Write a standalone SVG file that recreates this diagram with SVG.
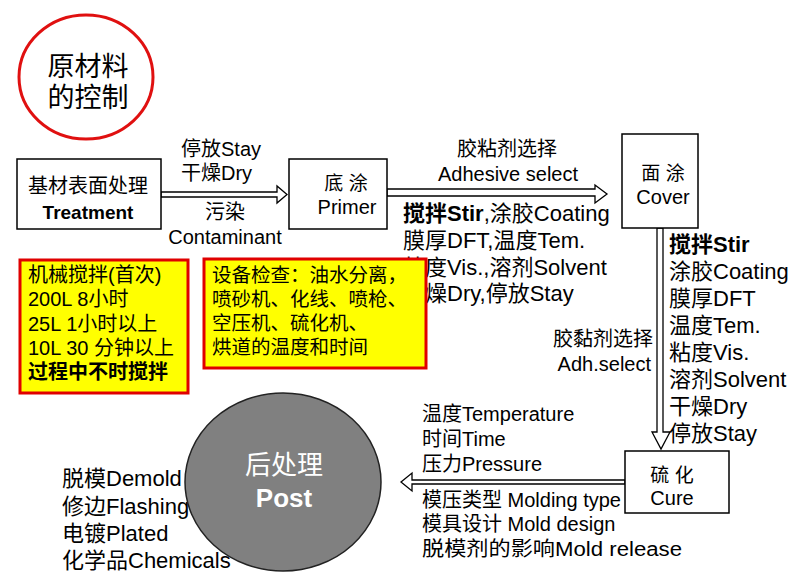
<svg xmlns="http://www.w3.org/2000/svg" width="800" height="578" viewBox="0 0 800 578">
<style>
text{font-family:"Liberation Sans","Noto Sans CJK SC",sans-serif;fill:#000}
.box{fill:#fff;stroke:#000;stroke-width:1.5}
.ybox{fill:#ffff00;stroke:#e00000;stroke-width:3}
.arr{fill:#fff;stroke:#000;stroke-width:1.3}
.t20{font-size:20px}
.t22{font-size:22px}
.b{font-weight:bold}
.mid{text-anchor:middle}
.end{text-anchor:end}
.w{fill:#fff}
</style>
<rect width="800" height="578" fill="#fff"/>

<g id="title">
<ellipse cx="86" cy="77" rx="67" ry="62" fill="#fff" stroke="#e01010" stroke-width="3"/>
<text x="88" y="76" class="mid" font-size="27">原材料</text>
<text x="88" y="107" class="mid" font-size="27">的控制</text>
</g>

<g id="labels-bg">
<g class="t22">
<text x="403" y="221"><tspan class="b">搅拌Stir</tspan>,涂胶Coating</text>
<text x="403" y="248">膜厚DFT,温度Tem.</text>
<text x="403" y="275">粘度Vis.,溶剂Solvent</text>
<text x="403" y="301">干燥Dry,停放Stay</text>
</g>
<g class="t22">
<text x="62" y="486">脱模Demold</text>
<text x="62" y="514">修边Flashing</text>
<text x="62" y="541">电镀Plated</text>
<text x="62" y="568">化学品Chemicals</text>
</g>
</g>

<g id="connectors">
<path class="arr" d="M161,192 H277 V186 L287,194.5 L277,203 V197 H161 Z"/>
<path class="arr" d="M387,189 H595 V185 L607,194 L595,203 V196 H387 Z"/>
<path class="arr" d="M657,228 V432 H652 L661,449 L670,432 H663 V228 Z"/>
<path class="arr" d="M625,480 H412 V473 L401,482 L412,491 V484 H625 Z"/>
</g>

<g id="treatment">
<rect class="box" x="17" y="159" width="144" height="70"/>
<text x="88" y="193" class="mid t20">基材表面处理</text>
<text x="88" y="219" class="mid b" font-size="19">Treatment</text>
</g>

<g id="primer">
<rect class="box" x="289" y="159" width="98" height="70"/>
<text x="346" y="190" class="mid" font-size="19">底 涂</text>
<text x="347" y="214" class="mid t20">Primer</text>
</g>

<g id="cover">
<rect class="box" x="622" y="134" width="76" height="94"/>
<text x="663" y="180" class="mid" font-size="19">面 涂</text>
<text x="663" y="204" class="mid t20">Cover</text>
</g>

<g id="cure">
<rect class="box" x="625" y="451" width="104" height="62"/>
<text x="672" y="482" class="mid" font-size="19">硫 化</text>
<text x="672" y="505" class="mid t20">Cure</text>
</g>

<g id="post">
<ellipse cx="283" cy="482" rx="98" ry="89" fill="#808080" stroke="#222" stroke-width="1.5"/>
<text x="284" y="474" class="mid w" font-size="26">后处理</text>
<text x="284" y="507" class="mid b w" font-size="26">Post</text>
</g>

<g id="labels">
<g class="t20">
<text x="181" y="156">停放Stay</text>
<text x="181" y="180">干燥Dry</text>
<text x="225" y="219" class="mid">污染</text>
<text x="225" y="244" class="mid">Contaminant</text>
<text x="507" y="156" class="mid">胶粘剂选择</text>
<text x="508" y="181" class="mid">Adhesive select</text>
<text x="653" y="346" class="end">胶黏剂选择</text>
<text x="651" y="371" class="end">Adh.select</text>
</g>
<g class="t22">
<text x="669" y="252" class="b">搅拌Stir</text>
<text x="669" y="279">涂胶Coating</text>
<text x="669" y="306">膜厚DFT</text>
<text x="669" y="333">温度Tem.</text>
<text x="669" y="360">粘度Vis.</text>
<text x="669" y="387">溶剂Solvent</text>
<text x="669" y="414">干燥Dry</text>
<text x="669" y="441">停放Stay</text>
</g>
<g class="t20">
<text x="422" y="421">温度Temperature</text>
<text x="422" y="446">时间Time</text>
<text x="422" y="471">压力Pressure</text>
<text x="422" y="507">模压类型 Molding type</text>
<text x="422" y="531">模具设计 Mold design</text>
<text x="422" y="556" textLength="260" lengthAdjust="spacingAndGlyphs">脱模剂的影响Mold release</text>
</g>
</g>

<g id="note-stir">
<rect class="ybox" x="20" y="260" width="168" height="133"/>
<g class="t20">
<text x="28" y="282">机械搅拌(首次)</text>
<text x="28" y="306">200L 8小时</text>
<text x="28" y="331">25L 1小时以上</text>
<text x="28" y="355">10L 30 分钟以上</text>
<text x="28" y="379" class="b">过程中不时搅拌</text>
</g>
</g>

<g id="note-equipment">
<rect class="ybox" x="204" y="259" width="222" height="109"/>
<g font-size="19.5">
<text x="212" y="282">设备检查：油水分离，</text>
<text x="212" y="306">喷砂机、化线、喷枪、</text>
<text x="212" y="330">空压机、硫化机、</text>
<text x="212" y="354">烘道的温度和时间</text>
</g>
</g>
</svg>
